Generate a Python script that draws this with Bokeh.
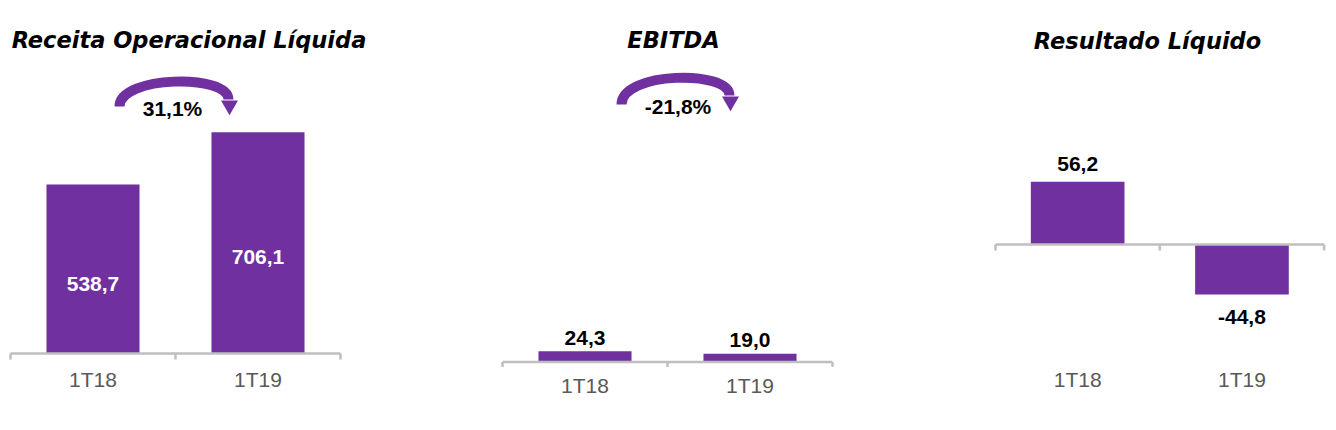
import math
from bokeh.plotting import figure
from bokeh.layouts import row
from bokeh.models import Range1d, FixedTicker
from bokeh.core.properties import value
from bokeh.embed import file_html
from bokeh.resources import INLINE

# ---------------- data ----------------
categories = ["1T18", "1T19"]
titles = ["Receita Operacional Líquida", "EBITDA", "Resultado Líquido"]
receita = [538.7, 706.1]
ebitda = [24.3, 19.0]
resultado = [56.2, -44.8]

# ---------------- style ----------------
PURPLE = "#7030A0"
AXIS_GRAY = "#BFBFBF"
LABEL_GRAY = "#595959"
SANS = "Liberation Sans"
TITLE_FONT = "DejaVu Sans"

H = 418
FRAME_H = 367


def fmt(v):
    return f"{v:.1f}".replace(".", ",")


def pct(a, b):
    return f"{(b / a - 1) * 100:.1f}%".replace(".", ",")


panels = [
    dict(values=receita, title=titles[0], width=500, x0=10, sx=165, base=353, sy=0.3135,
         bar_w=0.564, mode="inside", gap_pos=14.5, gap_neg=0, standoff=0, tick=6,
         title_xy=(188.5, 39.5),
         arrow=dict(start=(119, 106), end=(228, 99), ctrl_y=(75, 73), head=(229, 105),
                    text_xy=(172, 108))),
    dict(values=ebitda, title=titles[1], width=492, x0=2, sx=165, base=361.5, sy=0.44,
         bar_w=0.564, mode="outside", gap_pos=13.5, gap_neg=13.5, standoff=6, tick=5,
         title_xy=(173, 39.5),
         arrow=dict(start=(121, 104), end=(729 - 500, 95), ctrl_y=(71, 69), head=(230, 101),
                    text_xy=(177.5, 105.5))),
    dict(values=resultado, title=titles[2], width=344, x0=3, sx=164.3, base=244, sy=1.115,
         bar_w=0.57, mode="outside", gap_pos=17.7, gap_neg=22.7, standoff=0, tick=6,
         title_xy=(155, 40), arrow=None),
]

figs = []
for cfg in panels:
    W, x0, sx, base, sy = cfg["width"], cfg["x0"], cfg["sx"], cfg["base"], cfg["sy"]

    def X(px):
        return (px - x0) / sx

    def Y(py):
        return (base - py) / sy

    p = figure(width=W, height=H, title=None,
               x_range=Range1d(X(0), X(W)), y_range=Range1d(Y(FRAME_H), Y(0)),
               output_backend="svg", toolbar_location=None, y_axis_location=None,
               min_border_left=0, min_border_right=0, min_border_top=0,
               min_border_bottom=H - FRAME_H)
    p.outline_line_color = None
    p.xgrid.visible = False
    p.ygrid.visible = False
    p.background_fill_color = "white"
    p.border_fill_color = "white"

    n = len(categories)
    xs = [i + 0.5 for i in range(n)]
    vals = cfg["values"]

    # bars
    p.vbar(x=xs, top=vals, bottom=0, width=cfg["bar_w"], fill_color=PURPLE, line_color=None)

    # baseline and category separators
    tick_len = cfg["tick"] / sy
    p.segment(x0=[0], y0=[0], x1=[n], y1=[0],
              line_color=AXIS_GRAY, line_width=2.5)
    p.segment(x0=list(range(n + 1)), y0=[0] * (n + 1), x1=list(range(n + 1)),
              y1=[-tick_len] * (n + 1), line_color=AXIS_GRAY, line_width=2.5)

    # value labels
    if cfg["mode"] == "inside":
        ly = [v / 2 - cfg["gap_pos"] / sy for v in vals]
        col = "white"
    else:
        ly = [v + cfg["gap_pos"] / sy if v >= 0 else v - cfg["gap_neg"] / sy for v in vals]
        col = "black"
    p.text(x=xs, y=ly, text=[fmt(v) for v in vals], text_align="center",
           text_baseline="middle", text_color=col, text_font=value(SANS),
           text_font_style="bold", text_font_size="21px")

    # title
    tx, ty = cfg["title_xy"]
    p.text(x=[X(tx)], y=[Y(ty)], text=[cfg["title"]], text_align="center",
           text_baseline="middle", text_color="black", text_font=value(TITLE_FONT),
           text_font_style="bold italic", text_font_size="22.5px")

    # growth arrow
    a = cfg["arrow"]
    if a is not None:
        (sx0, sy0), (ex, ey) = a["start"], a["end"]
        c0, c1 = a["ctrl_y"]
        p.bezier(x0=[X(sx0)], y0=[Y(sy0)], x1=[X(ex)], y1=[Y(ey)],
                 cx0=[X(sx0)], cy0=[Y(c0)], cx1=[X(ex)], cy1=[Y(c1)],
                 line_color=PURPLE, line_width=10)
        hx, hy = a["head"]
        p.scatter(x=[X(hx)], y=[Y(hy)], marker="triangle", size=17, angle=math.pi,
                  fill_color=PURPLE, line_color=None)
        px_, py_ = a["text_xy"]
        p.text(x=[X(px_)], y=[Y(py_)], text=[pct(vals[0], vals[1])], text_align="center",
               text_baseline="middle", text_color="black", text_font=value(SANS),
               text_font_style="bold", text_font_size="21px")

    # category axis (labels only)
    ax = p.xaxis[0]
    ax.ticker = FixedTicker(ticks=xs, minor_ticks=[])
    ax.major_label_overrides = {x: c for x, c in zip(xs, categories)}
    ax.axis_line_color = None
    ax.major_tick_line_color = None
    ax.minor_tick_line_color = None
    ax.major_tick_out = 0
    ax.major_tick_in = 0
    ax.major_label_standoff = cfg["standoff"]
    ax.major_label_text_font = SANS
    ax.major_label_text_font_size = "21px"
    ax.major_label_text_color = LABEL_GRAY

    figs.append(p)

layout = row(*figs, spacing=0)
open("out.html", "w").write(file_html(layout, INLINE))
